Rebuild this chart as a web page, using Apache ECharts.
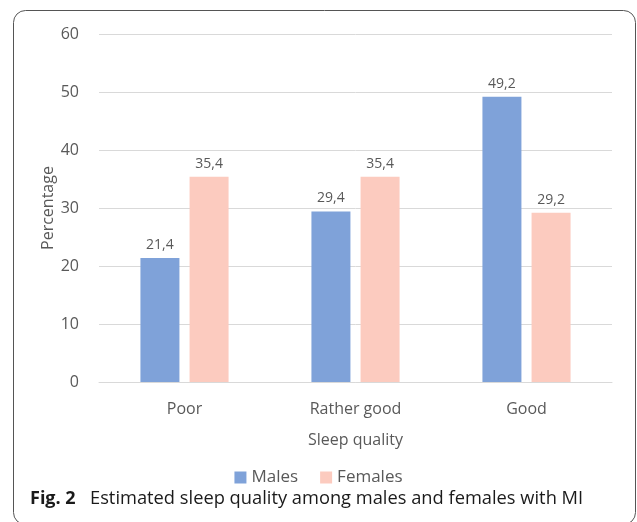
<!DOCTYPE html>
<html><head><meta charset="utf-8">
<script src="https://cdn.jsdelivr.net/npm/echarts@6/dist/echarts.min.js"></script>
<style>html,body{margin:0;padding:0;background:#fff}#c{width:637px;height:522px}</style>
</head><body><div id="c"></div>
<script>
var categories = ['Poor', 'Rather good', 'Good'];
var males = [21.4, 29.4, 49.2];
var females = [35.4, 35.4, 29.2];
var yTicks = [0, 10, 20, 30, 40, 50, 60];

var chart = echarts.init(document.getElementById('c'), null, {renderer: 'canvas'});
var font = '"Open Sans", "Noto Sans", sans-serif';
var fmt = function (p) { return String(p.value).replace('.', ','); };
chart.setOption({
  animation: false,
  textStyle: {fontFamily: font},
  grid: {left: 99, right: 25, top: 34, bottom: 140, containLabel: false},
  legend: {
    data: ['Males', 'Females'], top: 464, left: 'center', itemWidth: 12, itemHeight: 12, itemGap: 22,
    icon: 'rect', textStyle: {fontSize: 17, color: '#595959', fontFamily: font}
  },
  xAxis: {
    type: 'category', data: categories,
    name: 'Sleep quality', nameLocation: 'middle', nameGap: 50, nameMoveOverlap: false,
    nameTextStyle: {fontSize: 16, color: '#595959'},
    axisLine: {lineStyle: {color: '#d9d9d9'}}, axisTick: {show: false},
    axisLabel: {fontSize: 16, color: '#595959', margin: 19}
  },
  yAxis: {
    type: 'value', min: 0, max: 60, interval: 10,
    name: 'Percentage', nameLocation: 'middle', nameGap: 43, nameMoveOverlap: false,
    nameTextStyle: {fontSize: 16, color: '#595959'},
    axisLine: {show: false}, axisTick: {show: false},
    axisLabel: {fontSize: 16, color: '#595959', margin: 20,
      formatter: function (v) { return yTicks.indexOf(v) >= 0 ? String(v) : ''; }},
    splitLine: {lineStyle: {color: '#d9d9d9'}}
  },
  series: [
    {name: 'Males', type: 'bar', data: males, barWidth: 39, barGap: '26%',
     itemStyle: {color: '#7fa2d9'},
     label: {show: true, position: 'top', distance: 6, fontSize: 14, color: '#595959', formatter: fmt}},
    {name: 'Females', type: 'bar', data: females, barWidth: 39,
     itemStyle: {color: '#fccbbf'},
     label: {show: true, position: 'top', distance: 6, fontSize: 14, color: '#595959', formatter: fmt}}
  ],
  graphic: [
    {type: 'rect', shape: {x: 13.5, y: 10.5, width: 622, height: 514, r: 12},
     style: {fill: 'none', stroke: '#555', lineWidth: 1}, silent: true},
    {type: 'text', left: 30, top: 490,
     style: {text: 'Fig. 2', font: 'bold 18px ' + font, fill: '#1a1a1a'}},
    {type: 'text', left: 90, top: 490,
     style: {text: 'Estimated sleep quality among males and females with MI', font: '18.3px ' + font, fill: '#1a1a1a'}}
  ]
});
</script></body></html>
